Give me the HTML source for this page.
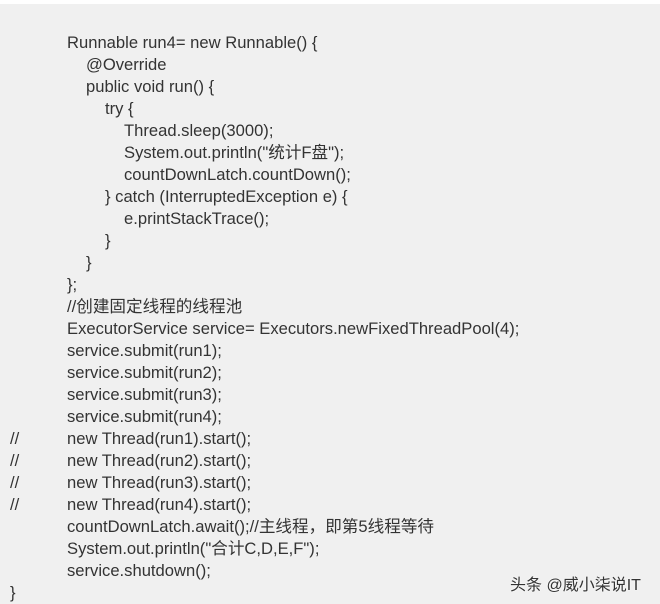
<!DOCTYPE html>
<html><head><meta charset="utf-8"><style>
html,body{margin:0;padding:0;width:660px;height:604px;overflow:hidden;background:#fff}
.bg{position:absolute;left:0;top:4px;width:660px;height:600px;background:#f0f0f0}
.l{position:absolute;height:22px;line-height:22px;font-family:"Liberation Sans","Noto Sans CJK SC",sans-serif;font-size:16.6px;color:#333;white-space:pre}
.wm{position:absolute;left:510px;top:571px;font-family:"Liberation Sans","Noto Sans CJK SC",sans-serif;font-size:16px;color:#333;text-shadow:0 0 2px #fff}
</style></head><body>
<div class="bg"></div>
<div class="l" style="left:67px;top:32px">Runnable run4= new Runnable() {</div>
<div class="l" style="left:86px;top:54px">@Override</div>
<div class="l" style="left:86px;top:76px">public void run() {</div>
<div class="l" style="left:105px;top:98px">try {</div>
<div class="l" style="left:124px;top:120px">Thread.sleep(3000);</div>
<div class="l" style="left:124px;top:142px">System.out.println("统计F盘");</div>
<div class="l" style="left:124px;top:164px">countDownLatch.countDown();</div>
<div class="l" style="left:105px;top:186px">} catch (InterruptedException e) {</div>
<div class="l" style="left:124px;top:208px">e.printStackTrace();</div>
<div class="l" style="left:105px;top:230px">}</div>
<div class="l" style="left:86px;top:252px">}</div>
<div class="l" style="left:67px;top:274px">};</div>
<div class="l" style="left:67px;top:296px">//创建固定线程的线程池</div>
<div class="l" style="left:67px;top:318px">ExecutorService service= Executors.newFixedThreadPool(4);</div>
<div class="l" style="left:67px;top:340px">service.submit(run1);</div>
<div class="l" style="left:67px;top:362px">service.submit(run2);</div>
<div class="l" style="left:67px;top:384px">service.submit(run3);</div>
<div class="l" style="left:67px;top:406px">service.submit(run4);</div>
<div class="l" style="left:10px;top:428px">//</div><div class="l" style="left:67px;top:428px">new Thread(run1).start();</div>
<div class="l" style="left:10px;top:450px">//</div><div class="l" style="left:67px;top:450px">new Thread(run2).start();</div>
<div class="l" style="left:10px;top:472px">//</div><div class="l" style="left:67px;top:472px">new Thread(run3).start();</div>
<div class="l" style="left:10px;top:494px">//</div><div class="l" style="left:67px;top:494px">new Thread(run4).start();</div>
<div class="l" style="left:67px;top:516px">countDownLatch.await();//主线程，即第5线程等待</div>
<div class="l" style="left:67px;top:538px">System.out.println("合计C,D,E,F");</div>
<div class="l" style="left:67px;top:560px">service.shutdown();</div>
<div class="l" style="left:10px;top:582px">}</div>
<div class="wm">头条 @威小柒说IT</div>
</body></html>
